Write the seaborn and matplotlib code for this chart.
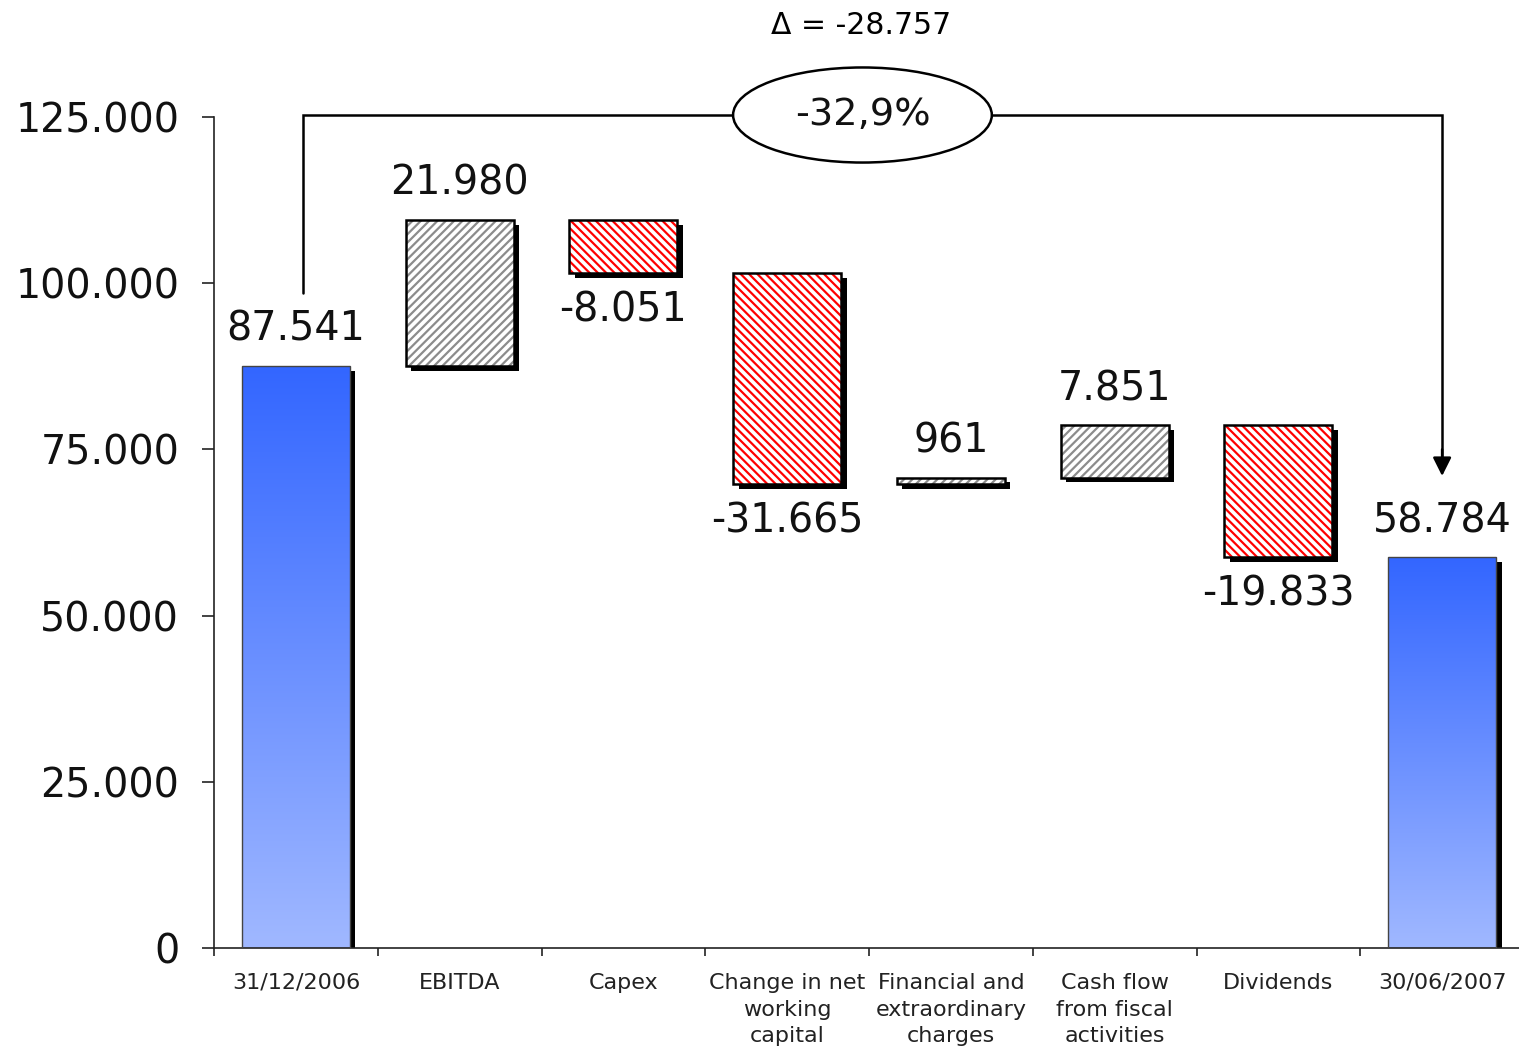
import numpy as np
import pandas as pd
import seaborn as sns
import matplotlib.pyplot as plt
from matplotlib.patches import Ellipse
from matplotlib.transforms import ScaledTranslation
from matplotlib.colors import LinearSegmentedColormap

# data
categories = ['31/12/2006', 'EBITDA', 'Capex', 'Change in net\nworking\ncapital',
              'Financial and\nextraordinary\ncharges', 'Cash flow\nfrom fiscal\nactivities',
              'Dividends', '30/06/2007']
changes = [87541, 21980, -8051, -31665, 961, 7851, -19833, 58784]
kinds = ['total', 'pos', 'neg', 'neg', 'pos', 'pos', 'neg', 'total']
labels = ['87.541', '21.980', '-8.051', '-31.665', '961', '7.851', '-19.833', '58.784']
yticks = [0, 25000, 50000, 75000, 100000, 125000]
ytick_labels = ['0', '25.000', '50.000', '75.000', '100.000', '125.000']
delta_text = '\u0394 = -28.757'
pct_text = '-32,9%'

# waterfall bottoms
bottoms, heights = [], []
running = 0
for v, k in zip(changes, kinds):
    if k == 'total':
        bottoms.append(0)
        heights.append(v)
        running = v
    else:
        new = running + v
        bottoms.append(min(running, new))
        heights.append(abs(v))
        running = new
df = pd.DataFrame({'cat': categories, 'height': heights, 'bottom': bottoms, 'kind': kinds})

sns.set_theme(style='white')
plt.rcParams['font.family'] = ['DejaVu Sans']
plt.rcParams['hatch.linewidth'] = 1.6

fig = plt.figure(figsize=(15.19, 10.52), dpi=100)
ax = fig.add_axes([214 / 1519, 104 / 1052, 1310 / 1519, 831 / 1052])

W = 0.66
# shadow layer
sns.barplot(data=df, x='cat', y='height', bottom=df['bottom'], order=categories,
            color='black', width=W, errorbar=None, linewidth=0, saturation=1, ax=ax)
n_sh = len(ax.patches)
shift = ScaledTranslation(4 / 72, -3.5 / 72, fig.dpi_scale_trans)
for p in ax.patches[:n_sh]:
    p.set_transform(ax.transData + shift)
    p.set_zorder(1)

# face layer
sns.barplot(data=df, x='cat', y='height', bottom=df['bottom'], order=categories,
            color='white', width=W, errorbar=None, linewidth=0, saturation=1, ax=ax)
faces = ax.patches[n_sh:]
blue = LinearSegmentedColormap.from_list('b', ['#A0B8FF', '#3366FF'])
for p, k in zip(faces, kinds):
    p.set_zorder(2)
    if k == 'pos':
        p.set_facecolor('white')
        p.set_edgecolor('#8c8c8c')
        p.set_hatch('////')
    elif k == 'neg':
        p.set_facecolor('white')
        p.set_edgecolor('#ff0000')
        p.set_hatch('\\\\\\\\')
    else:
        x0, y0 = p.get_x(), p.get_y()
        grad = np.linspace(0, 1, 256).reshape(-1, 1)
        im = ax.imshow(grad, cmap=blue, origin='lower', aspect='auto',
                       extent=[x0, x0 + p.get_width(), y0, y0 + p.get_height()], zorder=2.5)
        im.set_clip_path(p)

# outline layer
sns.barplot(data=df, x='cat', y='height', bottom=df['bottom'], order=categories,
            fill=False, color='black', width=W, errorbar=None, linewidth=1.8, ax=ax)
for p, k in zip(ax.patches[2 * n_sh:], kinds):
    p.set_zorder(3)
    if k == 'total':
        p.set_edgecolor('#444444')
        p.set_linewidth(1.0)

ax.set_xlim(-0.5, 7.5)
ax.set_ylim(0, 125000)
ax.set_xlabel('')
ax.set_ylabel('')

# ticks: y
ax.set_yticks(yticks)
ax.set_yticklabels(ytick_labels, fontsize=28.5, color='#111111')
# ticks: x (marks between categories, labels at centers)
ax.set_xticks(np.arange(-0.5, 8.0, 1.0))
ax.set_xticklabels([])
ax.set_xticks(np.arange(8), minor=True)
ax.set_xticklabels(categories, minor=True, fontsize=16, color='#222222', linespacing=1.42)
ax.tick_params(axis='y', which='major', direction='out', length=9, width=1.2,
               color='#222222', pad=16, left=True)
ax.tick_params(axis='x', which='major', direction='out', length=6, width=1.2,
               color='#222222', bottom=True)
ax.tick_params(axis='x', which='minor', length=0, pad=18)

sns.despine(ax=ax, top=True, right=True)
for s in ['left', 'bottom']:
    ax.spines[s].set_color('#222222')
    ax.spines[s].set_linewidth(1.2)

# value labels
for i, k in enumerate(kinds):
    top = bottoms[i] + heights[i]
    if k == 'neg':
        ax.annotate(labels[i], (i, bottoms[i]), xytext=(0, -27), textcoords='offset points',
                    ha='center', va='center', fontsize=28.5, color='#111111', zorder=5)
    else:
        ax.annotate(labels[i], (i, top), xytext=(0, 26), textcoords='offset points',
                    ha='center', va='center', fontsize=28.5, color='#111111', zorder=5)

# bracket with delta
y_br = 125300
ax.plot([0.045, 0.045, 7.0, 7.0], [98500, y_br, y_br, 74000], color='black', lw=1.8,
        clip_on=False, zorder=4, solid_joinstyle='miter')
ax.annotate('', xy=(7.0, 71000), xytext=(7.0, 75000),
            arrowprops=dict(arrowstyle='-|>', color='black', lw=1.8,
                            mutation_scale=28, shrinkA=0, shrinkB=0),
            annotation_clip=False, zorder=4)
ell = Ellipse((3.46, y_br), width=1.58, height=14300, facecolor='white',
              edgecolor='black', lw=1.8, clip_on=False, zorder=5)
ax.add_patch(ell)
ax.text(3.46, y_br, pct_text, ha='center', va='center', fontsize=27.5, color='#111111',
        zorder=6, clip_on=False)
ax.text(3.45, 138800, delta_text, ha='center', va='center', fontsize=21.5, color='black',
        clip_on=False)

fig.savefig('out.png', dpi=100)
